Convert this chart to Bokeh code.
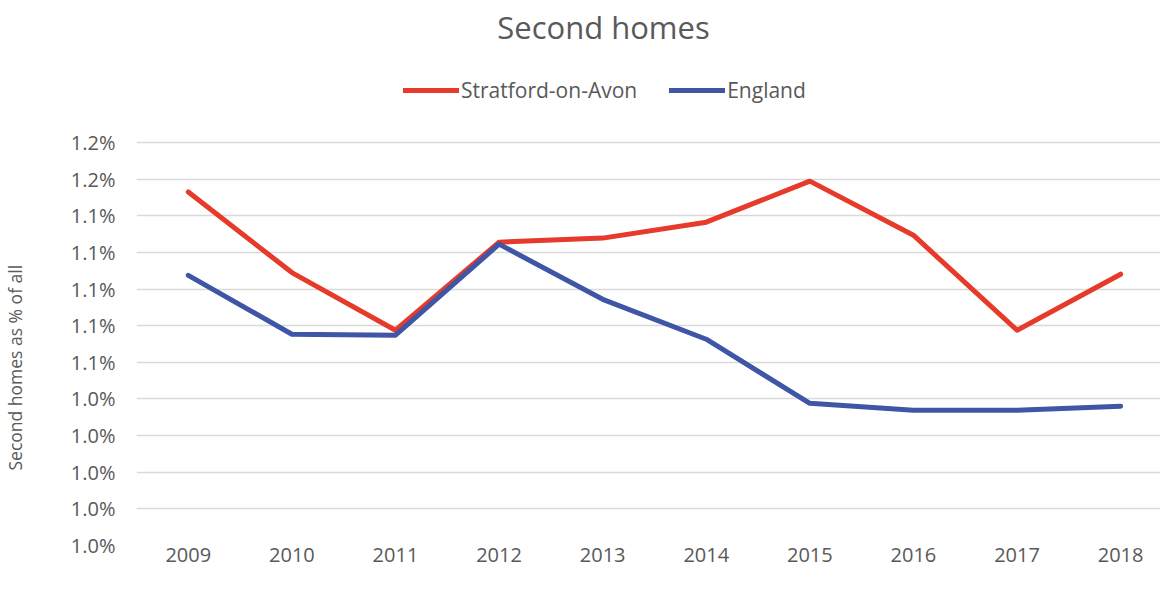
from bokeh.plotting import figure
from bokeh.models import FixedTicker, PrintfTickFormatter, Range1d, Legend, LegendItem, Label, Title
from bokeh.embed import file_html
from bokeh.resources import INLINE

years = [2009, 2010, 2011, 2012, 2013, 2014, 2015, 2016, 2017, 2018]
stratford = [1.153, 1.109, 1.0775, 1.1256, 1.1278, 1.1365, 1.1589, 1.1294, 1.0775, 1.1081]
england = [1.1075, 1.0753, 1.0748, 1.1245, 1.0944, 1.0726, 1.0376, 1.0338, 1.0338, 1.0360]
y_ticks = [0.96, 0.98, 1.00, 1.02, 1.04, 1.06, 1.08, 1.10, 1.12, 1.14, 1.16, 1.18]

FONT = "Open Sans"
TXT = "#595959"
RED = "#E63A2B"
BLUE = "#3F55A6"

# frame extends up to the top of the chart so the title and legend sit inside it
p = figure(width=1160, height=574, output_backend="svg", toolbar_location=None,
           x_range=Range1d(2008.5, 2018.385), y_range=Range1d(0.96, 1.25752),
           min_border_left=130, min_border_right=0, min_border_bottom=29, min_border_top=0)

title = Label(x=467, y=519, x_units="screen", y_units="screen", text="Second homes",
              text_align="center", text_baseline="middle", text_font=FONT,
              text_font_size="31px", text_color=TXT)
p.add_layout(title)

r1 = p.line(years, stratford, line_color=RED, line_width=5, line_cap="round", line_join="round")
r2 = p.line(years, england, line_color=BLUE, line_width=5, line_cap="round", line_join="round")

legend = Legend(items=[LegendItem(label="Stratford-on-Avon", renderers=[r1]),
                       LegendItem(label="England", renderers=[r2])],
                orientation="horizontal", location=(267, 441),
                label_text_font=FONT, label_text_font_size="21px", label_text_color=TXT,
                glyph_width=56, glyph_height=20, spacing=32, label_standoff=2,
                border_line_color=None, background_fill_alpha=0, padding=0, margin=0)
p.add_layout(legend, "center")

p.xaxis.ticker = FixedTicker(ticks=years)
p.yaxis.ticker = FixedTicker(ticks=y_ticks)
p.yaxis.formatter = PrintfTickFormatter(format="%.1f%%")

# blank spacer between tick labels and the axis title
spacer = Title(text=" ", text_font=FONT, text_font_size="17.5px", standoff=15)
p.add_layout(spacer, "left")
ylab = Title(text="Second homes as % of all", align="left", offset=75,
             text_font=FONT, text_font_size="17.5px", text_font_style="normal",
             text_color=TXT, standoff=0)
p.add_layout(ylab, "left")

for ax in (p.xaxis, p.yaxis):
    ax.axis_line_color = None
    ax.major_tick_line_color = None
    ax.minor_tick_line_color = None
    ax.major_tick_out = 0
    ax.major_tick_in = 0
    ax.minor_tick_out = 0
    ax.minor_tick_in = 0
    ax.major_label_text_font = FONT
    ax.major_label_text_font_size = "20px"
    ax.major_label_text_color = TXT
p.yaxis.major_label_standoff = 21
p.xaxis.major_label_standoff = 2

p.xgrid.grid_line_color = None
p.ygrid.grid_line_color = "#D9D9D9"
p.ygrid.grid_line_width = 1.5
p.outline_line_color = None

open("out.html", "w").write(file_html(p, INLINE))
